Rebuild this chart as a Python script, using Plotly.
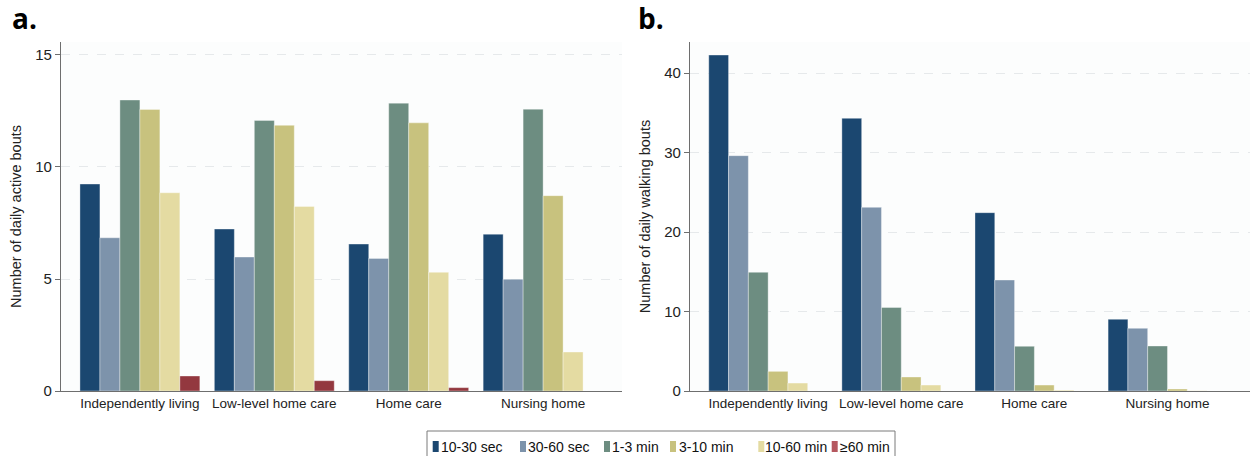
import plotly.graph_objects as go

W, H = 1250, 456

categories = ["Independently living", "Low-level home care", "Home care", "Nursing home"]
series_names = ["10-30 sec", "30-60 sec", "1-3 min", "3-10 min", "10-60 min", "≥60 min"]
colors = ["#1b4770", "#7d93ab", "#6d8d81", "#c8c27e", "#e4dba2", "#93383f"]
legend_colors = ["#1b4770", "#7d93ab", "#6d8d81", "#c8c27e", "#e4dba2", "#b5585f"]

# Panel a: daily active bouts
active_10_30s = [9.24, 7.23, 6.56, 7.00]
active_30_60s = [6.84, 5.98, 5.92, 4.99]
active_1_3m = [12.99, 12.08, 12.85, 12.58]
active_3_10m = [12.57, 11.86, 11.97, 8.72]
active_10_60m = [8.85, 8.24, 5.30, 1.74]
active_60m = [0.67, 0.46, 0.15, 0.0]

# Panel b: daily walking bouts
walk_10_30s = [42.26, 34.3, 22.43, 9.02]
walk_30_60s = [29.6, 23.1, 13.96, 7.88]
walk_1_3m = [14.93, 10.5, 5.62, 5.66]
walk_3_10m = [2.47, 1.76, 0.75, 0.25]
walk_10_60m = [1.0, 0.75, 0.1, 0.03]
walk_60m = [0.0, 0.0, 0.0, 0.0]

active = [active_10_30s, active_30_60s, active_1_3m, active_3_10m, active_10_60m, active_60m]
walking = [walk_10_30s, walk_30_60s, walk_1_3m, walk_3_10m, walk_10_60m, walk_60m]

fig = go.Figure()
for i, name in enumerate(series_names):
    fig.add_trace(go.Bar(x=categories, y=active[i], name=name, marker_color=colors[i],
                         marker_line=dict(color="rgba(255,255,255,0.45)", width=0.8),
                         xaxis="x", yaxis="y", showlegend=False))
for i, name in enumerate(series_names):
    fig.add_trace(go.Bar(x=categories, y=walking[i], name=name, marker_color=colors[i],
                         marker_line=dict(color="rgba(255,255,255,0.45)", width=0.8),
                         xaxis="x2", yaxis="y2", showlegend=False))

xtick_font = dict(family="Liberation Sans, Arial", size=13.5, color="#222")
ytick_font = dict(family="Liberation Sans, Arial", size=15, color="#222")
ydom = [(H - 391) / H, (H - 42) / H]

common_x = dict(showline=True, linecolor="#6e6e6e", linewidth=1.2, ticks="", showgrid=False,
                tickfont=xtick_font, zeroline=False, automargin=False)
common_y = dict(showline=True, linecolor="#6e6e6e", linewidth=1.2, ticks="outside", ticklen=5,
                tickcolor="#6e6e6e", showgrid=True, gridcolor="#e6e9eb", griddash="dash",
                gridwidth=1, zeroline=False, tickfont=ytick_font, automargin=False,
                title_font=dict(family="Liberation Sans, Arial", size=14.5, color="#222"))

fig.update_layout(
    width=W, height=H, autosize=False,
    margin=dict(l=0, r=0, t=0, b=0, pad=0),
    paper_bgcolor="white",
    plot_bgcolor="#fcfdfd",
    barmode="group", bargap=0.108, bargroupgap=0,
    xaxis=dict(domain=[61 / W, 622 / W], range=[-0.587, 3.587], anchor="y", **common_x),
    yaxis=dict(domain=ydom, range=[0, 15.58], tickvals=[0, 5, 10, 15], anchor="x",
               title=dict(text="Number of daily active bouts", standoff=10), **common_y),
    xaxis2=dict(domain=[690 / W, 1.0], range=[-0.587, 3.62], anchor="y2", **common_x),
    yaxis2=dict(domain=ydom, range=[0, 43.9], tickvals=[0, 10, 20, 30, 40], anchor="x2",
                title=dict(text="Number of daily walking bouts", standoff=10), **common_y),
    showlegend=False,
)

# Panel labels
for txt, xp in [("a.", 10), ("b.", 636)]:
    fig.add_annotation(text=f"<b>{txt}</b>", x=xp / W, y=(H - 18) / H, xref="paper", yref="paper",
                       xanchor="left", yanchor="middle", showarrow=False,
                       font=dict(family="Open Sans, Liberation Sans", size=28, color="black"))

# Custom legend (compact Stata-style)
box_l, box_r, box_t = 427, 895, 431
fig.add_shape(type="rect", xref="paper", yref="paper",
              x0=box_l / W, x1=box_r / W, y0=-0.02, y1=(H - box_t) / H,
              line=dict(color="#7a7a7a", width=1), fillcolor="white", layer="below")
key_x = [432.7, 520, 604, 670, 758.3, 831.7]
text_x = [439, 526, 610, 677, 763, 838]
yc = 446.5
for i, name in enumerate(series_names):
    kx = key_x[i]
    fig.add_shape(type="rect", xref="paper", yref="paper",
                  x0=kx / W, x1=(kx + 6) / W, y0=(H - (yc + 5.5)) / H, y1=(H - (yc - 5.5)) / H,
                  line=dict(width=0), fillcolor=legend_colors[i])
    fig.add_annotation(text=name, x=text_x[i] / W, y=(H - yc) / H, xref="paper", yref="paper",
                       xanchor="left", yanchor="middle", showarrow=False,
                       font=dict(family="Liberation Sans, Arial", size=14, color="#111"))

fig.write_html("out.html", config={"responsive": False, "displayModeBar": False},
               post_script="document.body.style.margin='0';document.body.style.overflow='hidden';")
